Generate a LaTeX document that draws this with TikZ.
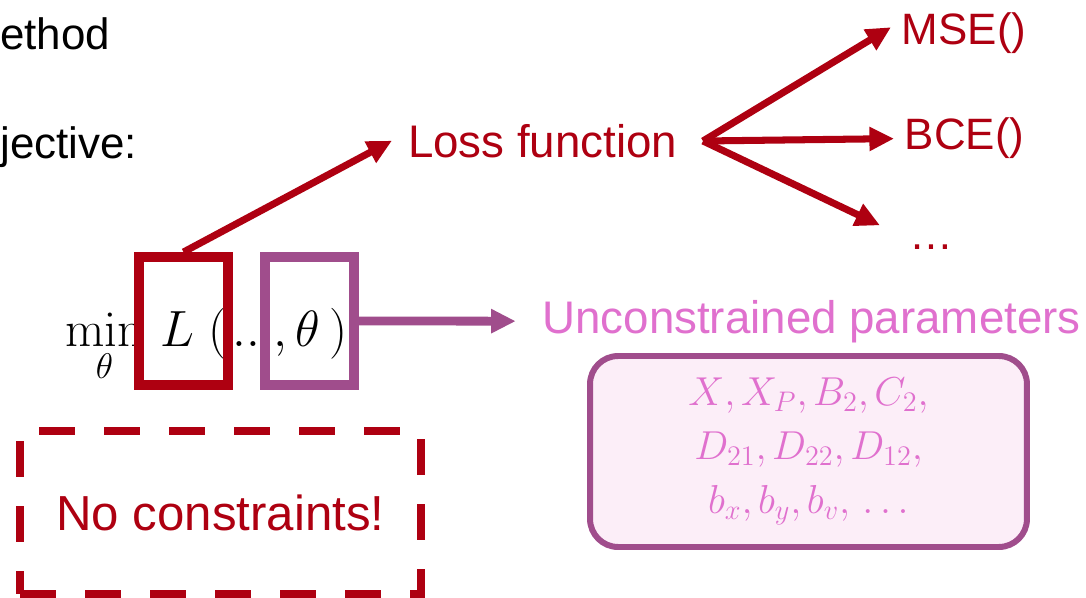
\RequirePackage{fix-cm}
\documentclass[tikz,border=0pt]{standalone}
\usepackage{amsmath}
\usepackage[no-math]{fontspec}
\setmainfont{Liberation Sans}
\usepackage{tikz}
\usetikzlibrary{arrows.meta,calc,positioning}
\definecolor{lossred}{HTML}{AE0011}
\definecolor{parampurple}{HTML}{A04D8C}
\definecolor{parampink}{HTML}{E070CE}
\definecolor{paramfill}{HTML}{FCEEF8}
\newcommand{\pc}{{,}\mkern2.5mu}

\begin{document}
\begin{tikzpicture}[x=0.02cm,y=-0.02cm,>={Triangle[length=14pt,width=13pt]},
  font=\fontsize{25}{30}\selectfont,
  slide/.style={anchor=base west,inner sep=0pt,text=black},
  lab/.style={anchor=base west,inner sep=6pt},
  pick/.style={draw,line width=5.7pt,minimum width=50.7pt,minimum height=72.8pt,inner sep=0pt},
  lossarrow/.style={->,draw=lossred,line width=4pt},
  paramarrow/.style={->,draw=parampurple,line width=5pt}]
\path[use as bounding box] (0,0) rectangle (1086,598);
\fill[white] (0,0) rectangle (1086,598);
% slide text, cut at the left edge
\node[slide] (method) at (0,50) {ethod};
\node[slide] (objective) at (0,158) {jective:};
% objective and its two parts
\node[anchor=base west,inner sep=0pt,font=\fontsize{29}{35}\selectfont] (obj) at (65,346)
  {$\displaystyle\min_{\theta}\,L\;(\mkern2mu...{,}\,\theta\,)$};
\node[pick,lossred] (lbox) at (183.5,321) {};
\node[pick,parampurple] (pbox) at (309.5,321) {};
% loss function and its choices
\node[lab,text=lossred,inner sep=9pt,font=\fontsize{26}{31}\selectfont] (loss) at (392,157) {Loss function};
\coordinate (fork) at (703,141);
\node[lab,text=lossred] (mse) at (891,45) {MSE()};
\node[lab,text=lossred] (bce) at (894,150) {BCE()};
\node[lab,text=lossred] (more) at (899,250) {\dots};
\draw[lossarrow] (lbox.north) -- (loss.west);
\draw[lossarrow] (fork) -- (mse.175);
\draw[lossarrow] (fork) -- (bce.west);
\draw[lossarrow,shorten >=12pt] (fork) -- (more.north west);
% parameters
\node[lab,text=parampink,font=\fontsize{26}{31}\selectfont] (params) at (531.5,333) {Unconstrained parameters};
\draw[paramarrow,shorten >=9pt] (pbox.east) -- (params.west);
\node[draw=parampurple,fill=paramfill,line width=3.4pt,rounded corners=16pt,
  minimum width=248.7pt,minimum height=108.7pt,text=parampink,align=center,
  font=\fontsize{23}{30.7}\selectfont] (plist) at (808.5,451.5)
  {$X\pc X_P\pc B_2\pc C_2,$\\ $D_{21}\pc D_{22}\pc D_{12},$\\ $b_x\pc b_y\pc b_v\pc \ldots$};
% no constraints
\node[draw=lossred,line width=4.5pt,dash pattern=on 20.5pt off 16.5pt,
  minimum width=228.2pt,minimum height=92.8pt,text=lossred,
  font=\fontsize{28}{34}\selectfont] (nocon) at (220.5,512.5) {No constraints!};
\end{tikzpicture}
\end{document}
